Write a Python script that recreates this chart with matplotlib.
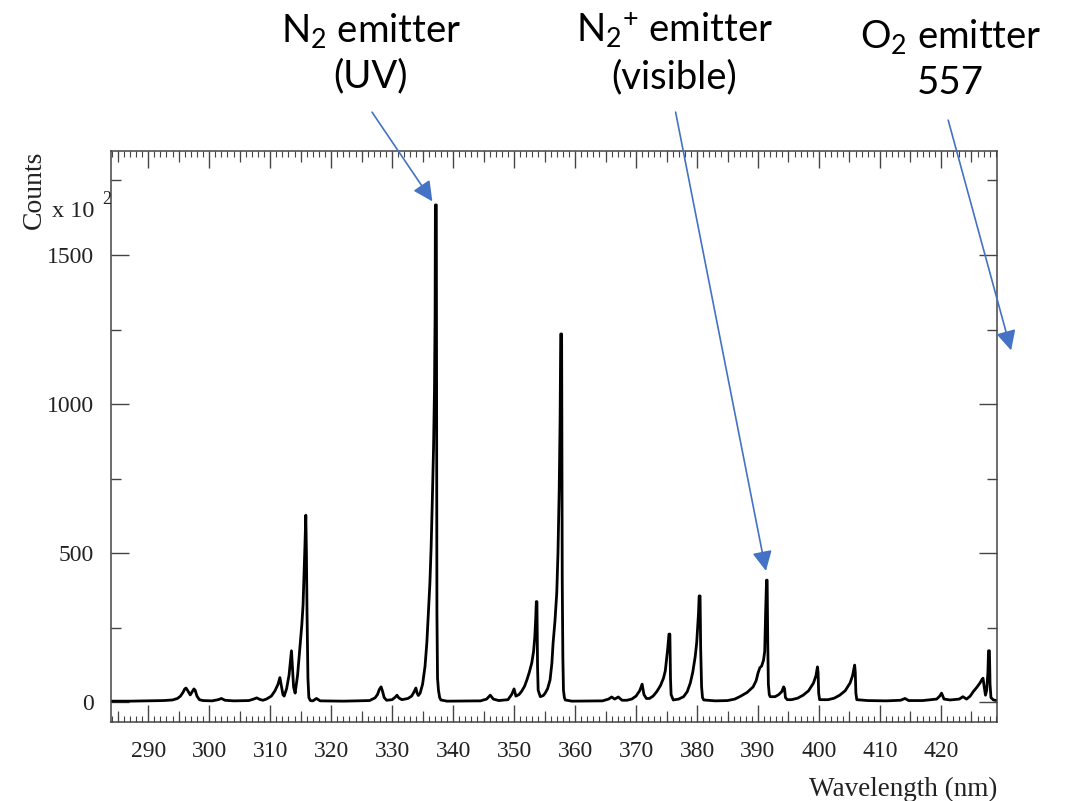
import matplotlib
matplotlib.use("Agg")
import matplotlib.pyplot as plt
from matplotlib.ticker import MultipleLocator, FixedLocator, NullFormatter

# spectrum (counts in units of 10^2)
wavelength = [
    # baseline and 296 nm doublet
    283.9, 287.0, 290.0, 292.5, 294.0, 294.8, 295.3, 295.7, 296.0, 296.2,
    296.5, 296.9, 297.2, 297.5, 297.7, 298.0, 298.4, 299.0,
    # small bumps
    300.5, 301.5, 302.0, 302.6, 304.0, 306.5, 307.3, 307.8, 308.3, 308.8,
    # 310-316 group
    309.4, 310.2, 310.8, 311.3, 311.6, 311.8, 312.1, 312.3, 312.7, 313.1,
    313.4, 313.5, 313.65, 313.85, 314.1, 314.5, 314.9, 315.2, 315.4, 315.55,
    315.7, 315.85, 315.95, 316.05, 316.2, 316.35, 316.6, 317.0, 317.6, 318.2,
    # 322-334
    322.0, 326.3, 327.2, 327.6, 327.9, 328.2, 328.45, 328.7, 329.1, 330.0,
    330.5, 330.8, 331.1, 331.6, 332.6, 333.2, 333.6, 333.9, 334.1, 334.3,
    # 337 nm line
    334.6, 335.0, 335.4, 335.7, 335.95, 336.2, 336.4, 336.6, 336.8, 336.95,
    337.05, 337.1, 337.25, 337.3, 337.35, 337.45, 337.6, 337.8, 338.0, 339.0,
    # 346-358
    344.5, 345.5, 346.1, 346.6, 347.5, 349.0, 349.6, 350.0, 350.3, 350.8,
    351.2, 351.7, 352.1, 352.5, 352.9, 353.2, 353.4, 353.55, 353.65, 353.75,
    353.85, 353.95, 354.3, 354.8, 355.1, 355.5, 355.9, 356.2, 356.4, 356.7,
    357.0, 357.2, 357.4, 357.55, 357.65, 357.8, 357.85, 357.9, 358.0, 358.1,
    358.25, 358.4, 359.5,
    # 366-381
    364.5, 365.5, 366.0, 366.5, 367.1, 367.7, 368.5, 369.3, 370.0, 370.6,
    371.0, 371.3, 371.7, 372.2, 372.8, 373.4, 374.0, 374.5, 374.8, 375.0,
    375.2, 375.4, 375.55, 375.65, 375.75, 376.1, 377.0, 377.8, 378.4, 378.9,
    379.3, 379.7, 379.95, 380.1, 380.25, 380.35, 380.5, 380.6, 380.75, 380.9,
    381.1, 383.0,
    # 385-408
    385.0, 386.2, 387.0, 388.2, 389.2, 389.7, 390.0, 390.3, 390.6, 390.9,
    391.1, 391.25, 391.4, 391.5, 391.6, 391.7, 391.85, 392.0, 392.8, 393.4,
    393.9, 394.2, 394.35, 394.5, 394.8, 395.5, 396.5, 397.4, 398.3, 399.1,
    399.5, 399.75, 399.85, 399.95, 400.1, 401.5, 402.5, 403.4, 404.3, 405.1,
    405.5, 405.85, 405.95, 406.05, 406.2, 408.0,
    # 411-429
    411.0, 413.4, 414.1, 414.7, 417.0, 419.3, 419.8, 420.1, 420.5, 421.5,
    423.0, 423.6, 424.2, 424.8, 425.3, 425.9, 426.4, 426.7, 426.9, 427.1,
    427.3, 427.5, 427.7, 427.8, 427.95, 428.05, 428.2, 428.6, 429.2,
]
counts = [
    3, 3, 4, 5, 7, 12, 20, 32, 44, 47,
    38, 24, 34, 44, 40, 20, 8, 5,
    4, 8, 12, 6, 4, 5, 10, 14, 9, 6,
    10, 20, 38, 60, 82, 60, 25, 20, 45, 90,
    150, 172, 120, 50, 30, 90, 186, 260, 326, 420,
    520, 627, 500, 300, 80, 15, 5, 4, 12, 4,
    3, 5, 14, 25, 42, 51, 35, 15, 6, 8,
    16, 23, 14, 8, 12, 20, 34, 47, 30, 22,
    30, 60, 120, 200, 298, 400, 520, 680, 856, 1050,
    1300, 1668, 1668, 900, 300, 80, 40, 15, 7, 3,
    4, 10, 23, 10, 5, 8, 25, 44, 20, 25,
    35, 52, 74, 100, 131, 170, 218, 280, 337, 337,
    120, 40, 18, 22, 30, 45, 74, 130, 198, 270,
    366, 500, 711, 950, 1235, 1235, 800, 409, 150, 40,
    15, 7, 3,
    4, 10, 17, 10, 17, 6, 6, 10, 20, 38,
    60, 25, 12, 12, 20, 35, 55, 80, 105, 141,
    180, 228, 228, 80, 25, 7, 10, 18, 35, 64,
    100, 152, 200, 253, 300, 356, 356, 180, 51, 15,
    7, 4,
    5, 10, 18, 32, 51, 72, 97, 115, 121, 140,
    170, 300, 409, 409, 200, 60, 25, 18, 18, 25,
    35, 51, 45, 15, 8, 8, 13, 23, 38, 64,
    88, 118, 100, 30, 8, 8, 13, 23, 38, 64,
    88, 124, 100, 30, 8, 5,
    4, 6, 12, 5, 5, 10, 20, 30, 10, 7,
    10, 18, 10, 20, 35, 50, 64, 75, 80, 50,
    23, 40, 100, 172, 172, 60, 15, 7, 5,
]

# annotations: label, arrow tip (data coords), arrow start / label centre (figure fraction)
labels = ["N$_2$ emitter\n(UV)", "N$_2$$^{+}$ emitter\n(visible)", "O$_2$ emitter\n557"]
arrow_tips = [(336.6, 1680), (391.3, 440), (431.5, 1180)]
arrow_starts = [(0.348, 0.860), (0.632, 0.860), (0.887, 0.850)]
label_pos = [(0.347, 0.934), (0.631, 0.934), (0.889, 0.926)]

plt.rcParams["mathtext.fontset"] = "custom"
plt.rcParams["mathtext.rm"] = "Lato"
plt.rcParams["mathtext.it"] = "Lato:italic"

serif = "Liberation Serif"
frame = "#444444"
text_col = "#222222"

fig = plt.figure(figsize=(10.69, 8.01), dpi=100)
ax = fig.add_axes([0.1038, 0.0986, 0.8289, 0.7129])

ax.plot(wavelength, counts, color="black", lw=2.0, solid_joinstyle="round")

ax.set_xlim(283.9, 429.2)
ax.set_ylim(-67, 1849)

for s in ax.spines.values():
    s.set_color(frame)
    s.set_linewidth(1.1)

ax.xaxis.set_major_locator(MultipleLocator(10))
ax.xaxis.set_minor_locator(MultipleLocator(1))
ax.yaxis.set_major_locator(MultipleLocator(500))
ax.yaxis.set_minor_locator(MultipleLocator(250))
ax.tick_params(axis="x", which="major", direction="in", length=12, width=1.0,
               color=frame, top=True, pad=14, labelsize=17)
ax.tick_params(axis="x", which="minor", direction="in", length=4, width=0.8,
               color=frame, top=True)
ax.tick_params(axis="y", which="major", direction="in", length=13, width=1.0,
               color=frame, right=True, pad=12, labelsize=17)
ax.tick_params(axis="y", which="minor", direction="in", length=7, width=1.0,
               color=frame, right=True)
for lab in ax.get_xticklabels() + ax.get_yticklabels():
    lab.set_fontfamily(serif)
    lab.set_color(text_col)

# medium ticks every 5 nm (top and bottom)
for loc in ["bottom", "top"]:
    sec = ax.secondary_xaxis(loc)
    sec.xaxis.set_major_locator(FixedLocator(list(range(285, 430, 10))))
    sec.xaxis.set_major_formatter(NullFormatter())
    sec.tick_params(direction="in", length=8, width=0.9, color=frame)
    sec.spines[loc].set_visible(False)

ax.set_xlabel("Wavelength (nm)", fontfamily=serif, fontsize=19.5, color=text_col)
ax.xaxis.set_label_coords(1.0, -0.096)
ax.xaxis.label.set_horizontalalignment("right")
ax.set_ylabel("Counts", fontfamily=serif, fontsize=20, color=text_col)
ax.yaxis.set_label_coords(-0.086, 1.0)
ax.yaxis.label.set_verticalalignment("center")
ax.yaxis.label.set_horizontalalignment("right")

fig.text(0.049, 0.736, "x 10", fontfamily=serif, fontsize=17.5, color=text_col,
         ha="left", va="center")
fig.text(0.096, 0.751, "2", fontfamily=serif, fontsize=13, color=text_col,
         ha="left", va="center")

for lab, tip, start, pos in zip(labels, arrow_tips, arrow_starts, label_pos):
    ax.annotate("", xy=tip, xycoords="data", xytext=start,
                textcoords="figure fraction", annotation_clip=False,
                arrowprops=dict(arrowstyle="-|>", color="#4472C4", lw=1.2,
                                mutation_scale=30, shrinkA=0, shrinkB=0))
    fig.text(pos[0], pos[1], lab, fontfamily="Lato", fontsize=27.5,
             ha="center", va="center", linespacing=1.3, color="black")

fig.savefig("out.png", dpi=100)
